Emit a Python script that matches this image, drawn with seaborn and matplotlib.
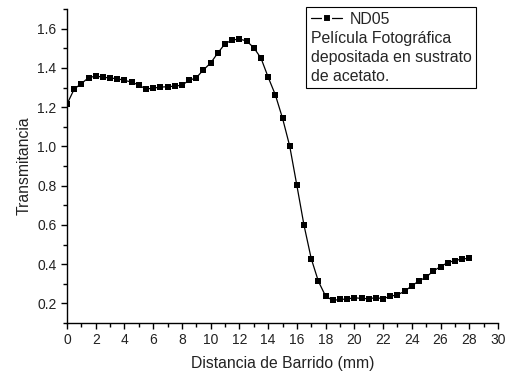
import matplotlib
matplotlib.use("Agg")
import matplotlib.pyplot as plt
import seaborn as sns
import numpy as np
import pandas as pd
from matplotlib.ticker import MultipleLocator

distancia = [0, 0.5, 1, 1.5, 2, 2.5, 3, 3.5, 4, 4.5, 5, 5.5, 6, 6.5, 7, 7.5, 8, 8.5,
             9, 9.5, 10, 10.5, 11, 11.5, 12, 12.5, 13, 13.5, 14, 14.5, 15, 15.5, 16,
             16.5, 17, 17.5, 18, 18.5, 19, 19.5, 20, 20.5, 21, 21.5, 22, 22.5, 23,
             23.5, 24, 24.5, 25, 25.5, 26, 26.5, 27, 27.5, 28]
transmitancia = [1.215, 1.292, 1.320, 1.350, 1.358, 1.353, 1.348, 1.345, 1.336, 1.328,
                 1.312, 1.292, 1.297, 1.302, 1.304, 1.307, 1.312, 1.336, 1.350, 1.390,
                 1.425, 1.476, 1.523, 1.542, 1.547, 1.537, 1.503, 1.450, 1.353, 1.263,
                 1.144, 1.002, 0.801, 0.597, 0.428, 0.312, 0.237, 0.215, 0.220, 0.222,
                 0.229, 0.225, 0.224, 0.229, 0.224, 0.236, 0.244, 0.261, 0.290, 0.314,
                 0.334, 0.365, 0.387, 0.408, 0.418, 0.426, 0.430]
serie = "ND05"
descripcion = "Película Fotográfica\ndepositada en sustrato\nde acetato."

df = pd.DataFrame({"x": distancia, "y": transmitancia})

sns.set_style("ticks")
plt.rcParams["font.family"] = ["Liberation Sans", "DejaVu Sans"]

fig = plt.figure(figsize=(5.07, 3.74), dpi=100)
ax = fig.add_axes([67/507, 1-323/374, (498-67)/507, (323-9)/374])

sns.lineplot(data=df, x="x", y="y", ax=ax, color="black", marker="s",
             markersize=4, markeredgewidth=0, linewidth=0.9, label=serie)

ax.set_xlim(0, 30)
ax.set_ylim(0.1, 1.7)
ax.xaxis.set_major_locator(MultipleLocator(2))
ax.xaxis.set_minor_locator(MultipleLocator(1))
ax.yaxis.set_minor_locator(MultipleLocator(0.1))
ax.set_yticks(np.arange(0.2, 1.61, 0.2))
ax.set_yticklabels([f"{v:.1f}" for v in np.arange(0.2, 1.61, 0.2)])
ax.tick_params(which="major", direction="out", length=4.5, width=1, labelsize=10,
               color="black", labelcolor="#222222", pad=3)
ax.tick_params(which="minor", direction="out", length=2.8, width=1, color="black")
for s in ["top", "right"]:
    ax.spines[s].set_visible(False)
for s in ["left", "bottom"]:
    ax.spines[s].set_color("black")
    ax.spines[s].set_linewidth(1)

ax.set_xlabel("Distancia de Barrido (mm)", fontsize=11.3, labelpad=6, color="#222222")
ax.set_ylabel("Transmitancia", fontsize=11.3, labelpad=4, color="#222222")

leg = ax.legend(title=descripcion, alignment="left", loc="upper left",
                bbox_to_anchor=(306/507, 1-7/374), bbox_transform=fig.transFigure,
                fontsize=11.4, title_fontsize=11.4, frameon=True, fancybox=False,
                edgecolor="black", framealpha=1, borderpad=0.3,
                handlelength=2.0, handletextpad=0.45, borderaxespad=0)
leg.get_frame().set_linewidth(0.8)
leg.get_title().set_linespacing(1.32)
h = leg.legend_handles[0]
h.set_markeredgecolor("white")
h.set_markeredgewidth(1.5)
h.set_markersize(5.5)
leg._legend_box._children = [leg._legend_box._children[1], leg._legend_box._children[0]]
leg._legend_box.sep = 3

fig.savefig("out.png", dpi=100)
